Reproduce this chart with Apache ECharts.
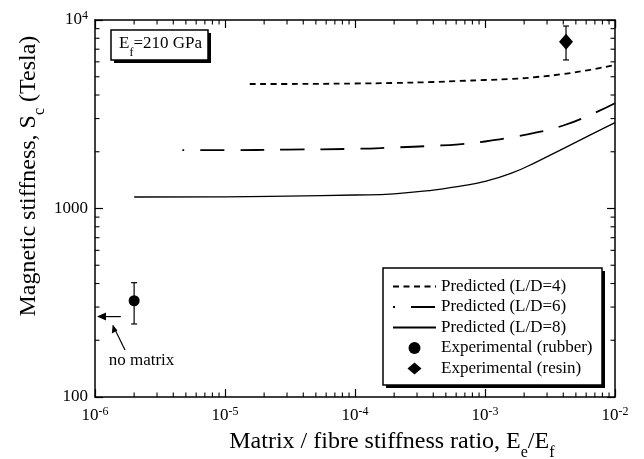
<!DOCTYPE html>
<html><head><meta charset="utf-8">
<script src="https://cdn.jsdelivr.net/npm/echarts@6/dist/echarts.min.js"></script>
<style>html,body{margin:0;padding:0;background:#fff}#c{width:644px;height:459px}</style>
</head><body><div id="c"></div>
<script>
// ---- data ----
const ratioLD4 = [1.55e-5, 3e-5, 1e-4, 2e-4, 4e-4, 6.3e-4, 1e-3, 1.58e-3, 2.5e-3, 4e-3, 6.3e-3, 1e-2];
const stiffLD4 = [4577, 4577, 4604, 4633, 4690, 4747, 4805, 4864, 4984, 5170, 5428, 5772];
const ratioLD6 = [4.7e-6, 1e-5, 3e-5, 1e-4, 2e-4, 4e-4, 6.3e-4, 1e-3, 1.58e-3, 2.5e-3, 4e-3, 6.3e-3, 1e-2];
const stiffLD6 = [2040, 2040, 2053, 2073, 2107, 2150, 2190, 2267, 2381, 2531, 2756, 3114, 3614];
const ratioLD8 = [2e-6, 1e-5, 3e-5, 1e-4, 2e-4, 4e-4, 6.3e-4, 1e-3, 1.58e-3, 2.5e-3, 4e-3, 6.3e-3, 1e-2];
const stiffLD8 = [1151, 1153, 1162, 1179, 1197, 1252, 1312, 1391, 1534, 1769, 2079, 2436, 2852];
const rubberX = [2e-6], rubberY = [324], rubberLow = [244], rubberHigh = [404];
const resinX = [4.2e-3], resinY = [7670], resinLow = [6140], resinHigh = [9290];
const noMatrixStiffness = [267];
const seriesNames = ['Predicted (L/D=4)', 'Predicted (L/D=6)', 'Predicted (L/D=8)', 'Experimental (rubber)', 'Experimental (resin)'];
const xMin = 1e-6, xMax = 1e-2, yMin = 100, yMax = 10000;
const minorMultipliers = [2, 3, 4, 5, 6, 7, 8, 9];

const FONT = "'Liberation Serif', 'Times New Roman', 'DejaVu Serif', serif";
function decades(lo, hi) { const r = []; for (let v = lo; v < hi * 0.999; v *= 10) r.push(v); return r; }
const xMinor = [], yMinor = [];
decades(xMin, xMax).forEach(d => minorMultipliers.forEach(m => xMinor.push(d * m)));
decades(yMin, yMax).forEach(d => minorMultipliers.forEach(m => yMinor.push(d * m)));
const tickItems = [];
xMinor.forEach(v => { tickItems.push([v, 0]); tickItems.push([v, 1]); });
yMinor.forEach(v => { tickItems.push([v, 2]); tickItems.push([v, 3]); });

const zip = (a, b) => a.map((x, i) => [x, b[i]]);
const txt = (size, lh, va) => ({ fontSize: size, lineHeight: lh, verticalAlign: va, fontFamily: FONT, color: '#000', fontWeight: 'normal' });
const supRich = { b: txt(17, 20, 'middle'), sup: txt(12, 12, 'top') };
const titleRich = { t: txt(24, 24, 'top'), s: txt(16, 16, 'bottom'), p: txt(1, 31, 'middle') };
const axisCommon = {
  type: 'log', logBase: 10,
  axisLine: { show: true, lineStyle: { color: '#000', width: 1.5 } },
  axisTick: { show: true, inside: true, length: 8, lineStyle: { color: '#000', width: 1.2 } },
  splitLine: { show: false },
  minorTick: { show: false },
  nameMoveOverlap: false
};
const hideSymbol = { opacity: 0 };

const chart = echarts.init(document.getElementById('c'), null, { renderer: 'canvas' });
chart.setOption({
  animation: false,
  backgroundColor: '#fff',
  grid: { left: 95, right: 29, top: 20, bottom: 62, containLabel: false, outerBoundsMode: 'none' },
  title: {
    text: '{a|E}{s|f}{a|=210 GPa}{p| }',
    left: 119, top: 35, padding: 0, z: 30,
    textStyle: { rich: { a: txt(17, 17, 'top'), s: txt(12, 12, 'bottom'), p: txt(1, 24, 'middle') } }
  },
  legend: {
    orient: 'vertical', left: 383, top: 268, z: 30,
    data: [
      { name: seriesNames[0], itemStyle: hideSymbol },
      { name: seriesNames[1], itemStyle: hideSymbol },
      { name: seriesNames[2], itemStyle: hideSymbol },
      { name: seriesNames[3], icon: 'circle' },
      { name: seriesNames[4], icon: 'path://M0,-6L7,0L0,6L-7,0Z' }
    ],
    padding: [10, 8, 8, 9], itemGap: 3.5, itemWidth: 43, itemHeight: 12,
    backgroundColor: 'transparent', borderWidth: 0,
    textStyle: { fontFamily: FONT, fontSize: 17, color: '#000' },
    selectedMode: false
  },
  xAxis: [
    Object.assign({}, axisCommon, {
      min: xMin, max: xMax, splitNumber: 4, position: 'bottom',
      axisLabel: {
        margin: 9,
        formatter: v => '{b|10}{sup|' + Math.round(Math.log10(v)) + '}',
        rich: supRich
      },
      name: '{t|Matrix / fibre stiffness ratio, E}{s|e}{t|/E}{s|f}{p| }',
      nameLocation: 'middle', nameGap: 33,
      nameTextStyle: { padding: [0, 0, 0, 74], rich: titleRich }
    }),
    Object.assign({}, axisCommon, {
      min: xMin, max: xMax, splitNumber: 4, position: 'top', axisLabel: { show: false }
    })
  ],
  yAxis: [
    Object.assign({}, axisCommon, {
      min: yMin, max: yMax, splitNumber: 2, position: 'left',
      axisLabel: {
        margin: 7,
        formatter: v => { const e = Math.round(Math.log10(v)); return e >= 4 ? '{b|10}{sup|' + e + '}' : '{b|' + Math.round(v) + '}'; },
        rich: supRich
      },
      name: '{t|Magnetic stiffness, S}{s|c}{t| (Tesla)}{p| }',
      nameLocation: 'middle', nameGap: 47,
      nameTextStyle: { padding: [0, 0, 0, 65], rich: titleRich }
    }),
    Object.assign({}, axisCommon, {
      min: yMin, max: yMax, splitNumber: 2, position: 'right', axisLabel: { show: false }
    })
  ],
  series: [
    {
      name: seriesNames[0], type: 'line', data: zip(ratioLD4, stiffLD4),
      symbol: 'none', smooth: 0.5,
      lineStyle: { color: '#000', width: 1.8, type: [6, 4.5] },
      itemStyle: { color: '#000' }
    },
    {
      name: seriesNames[1], type: 'line', data: zip(ratioLD6, stiffLD6),
      symbol: 'none', smooth: 0.5,
      lineStyle: { color: '#000', width: 1.8, type: [24, 16], dashOffset: 22 },
      itemStyle: { color: '#000' }
    },
    {
      name: seriesNames[2], type: 'line', data: zip(ratioLD8, stiffLD8),
      symbol: 'none', smooth: 0.5,
      lineStyle: { color: '#000', width: 1.3, type: 'solid' },
      itemStyle: { color: '#000' }
    },
    {
      name: seriesNames[3], type: 'scatter', data: zip(rubberX, rubberY),
      symbol: 'circle', symbolSize: 11, itemStyle: { color: '#000', opacity: 1 }, z: 5
    },
    {
      name: seriesNames[4], type: 'scatter', data: zip(resinX, resinY),
      symbol: 'diamond', symbolSize: [14, 16], itemStyle: { color: '#000', opacity: 1 }, z: 5
    },
    {
      name: 'errorbars', type: 'custom', silent: true, z: 4,
      data: rubberX.map((x, i) => [x, rubberLow[i], rubberHigh[i]])
        .concat(resinX.map((x, i) => [x, resinLow[i], resinHigh[i]])),
      renderItem: (params, api) => {
        const lo = api.coord([api.value(0), api.value(1)]);
        const hi = api.coord([api.value(0), api.value(2)]);
        const w = 3, st = { stroke: '#000', lineWidth: 1.2 };
        return {
          type: 'group', children: [
            { type: 'line', shape: { x1: lo[0], y1: lo[1], x2: hi[0], y2: hi[1] }, style: st },
            { type: 'line', shape: { x1: lo[0] - w, y1: lo[1], x2: lo[0] + w, y2: lo[1] }, style: st },
            { type: 'line', shape: { x1: hi[0] - w, y1: hi[1], x2: hi[0] + w, y2: hi[1] }, style: st }
          ]
        };
      }
    },
    {
      name: 'minorTicks', type: 'custom', silent: true, z: 3,
      data: tickItems,
      renderItem: (params, api) => {
        const v = api.value(0), side = api.value(1), L = 4.5;
        let p, x1, y1, x2, y2;
        if (side === 0) { p = api.coord([v, yMin]); x1 = x2 = p[0]; y1 = p[1]; y2 = p[1] - L; }
        else if (side === 1) { p = api.coord([v, yMax]); x1 = x2 = p[0]; y1 = p[1]; y2 = p[1] + L; }
        else if (side === 2) { p = api.coord([xMin, v]); y1 = y2 = p[1]; x1 = p[0]; x2 = p[0] + L; }
        else { p = api.coord([xMax, v]); y1 = y2 = p[1]; x1 = p[0]; x2 = p[0] - L; }
        return { type: 'line', shape: { x1, y1, x2, y2 }, style: { stroke: '#000', lineWidth: 1.1 } };
      }
    },
    {
      name: 'noMatrixArrow', type: 'custom', silent: true, z: 4,
      data: noMatrixStiffness.map(v => [v]),
      renderItem: (params, api) => {
        const s = api.value(0);
        const tip = api.coord([xMin, s]);
        const tx = tip[0] + 2, ty = tip[1];
        const tail = api.coord([1.58e-6, s]);
        return {
          type: 'group', children: [
            { type: 'line', shape: { x1: tx + 6, y1: ty, x2: tail[0], y2: ty }, style: { stroke: '#000', lineWidth: 1.2 } },
            { type: 'polygon', shape: { points: [[tx, ty], [tx + 9, ty - 4], [tx + 9, ty + 4]] }, style: { fill: '#000' } }
          ]
        };
      }
    }
  ],
  graphic: [
    // title box with hard shadow
    { type: 'rect', z: 20, shape: { x: 114, y: 33, width: 97, height: 30 }, style: { fill: '#000' } },
    { type: 'rect', z: 21, shape: { x: 111, y: 30, width: 97, height: 30 }, style: { fill: '#fff', stroke: '#000', lineWidth: 1.5 } },
    // legend box with hard shadow
    { type: 'rect', z: 20, shape: { x: 386, y: 271, width: 219, height: 117 }, style: { fill: '#000' } },
    { type: 'rect', z: 21, shape: { x: 383, y: 268, width: 219, height: 117 }, style: { fill: '#fff', stroke: '#000', lineWidth: 1.5 } },
    // "no matrix" pointer
    { type: 'line', shape: { x1: 125, y1: 350, x2: 113, y2: 325.5 }, style: { stroke: '#000', lineWidth: 1.2 } },
    { type: 'polygon', shape: { points: [[112.7, 325], [111.8, 333.5], [117.5, 330.5]] }, style: { fill: '#000' } },
    { type: 'text', x: 141.5, y: 361, style: { text: 'no matrix', font: '17px ' + FONT, fill: '#000', align: 'center', verticalAlign: 'middle' } }
  ]
});
</script>
</body></html>
